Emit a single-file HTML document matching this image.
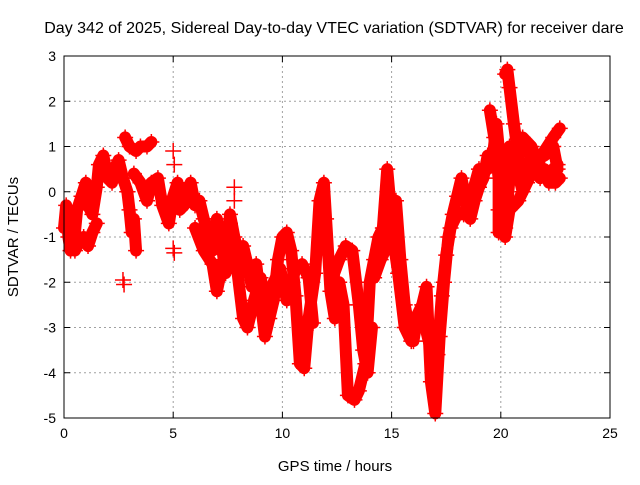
<!DOCTYPE html>
<html><head><meta charset="utf-8"><style>
body{margin:0;background:#fff;}
svg text{font-family:"Liberation Sans",sans-serif;font-size:14px;fill:#000;}
</style></head><body>
<svg id="chart" width="640" height="480">
<text x="334" y="33" text-anchor="middle" style="font-size:16px">Day 342 of 2025, Sidereal Day-to-day VTEC variation (SDTVAR) for receiver dare</text>
<text x="335" y="471" text-anchor="middle" style="font-size:15px">GPS time / hours</text>
<text x="18" y="237" text-anchor="middle" style="font-size:15px" transform="rotate(-90 18 237)">SDTVAR / TECUs</text>
<g id="grid"></g><g id="ticks"></g><g id="marks"></g>
<rect x="64" y="56" width="546" height="362" fill="none" stroke="#000" stroke-width="1"/>
</svg>
<script>
const xTicks=[0,5,10,15,20,25];
const yTicks=[3,2,1,0,-1,-2,-3,-4,-5];
const trace1T=[0,0.1,0.2,0.3,0.5,0.6,0.8,1.0,1.1,1.3,1.5,1.6,1.8,2.0,2.2,2.3,2.5,2.7,2.9,3.0,3.1,3.2,3.3];
const trace1V=[-0.8,-0.3,-1.0,-1.3,-0.9,-0.4,-0.1,0.2,-0.3,-0.5,0.1,0.6,0.8,0.3,0.2,0.5,0.7,0.3,0.0,-0.4,-0.9,-0.6,-1.3];
const trace2T=[0.3,0.5,0.7,0.9,1.1,1.3,1.5];
const trace2V=[-0.9,-1.3,-1.1,-1.0,-1.2,-0.9,-0.7];
const trace3T=[2.8,3.0,3.3,3.5,3.8,4.0];
const trace3V=[1.2,1.0,0.9,1.0,1.0,1.1];
const trace4T=[3.2,3.5,3.8,4.0,4.3,4.5,4.8,5.0,5.2,5.3,5.5,5.7,5.8,6.0,6.2,6.4,6.6,6.8,7.0,7.2,7.4,7.6,7.8,8.0,8.2,8.4,8.6,8.8,9.0,9.2,9.4,9.6,9.8,10.0,10.2,10.4,10.6,10.8,11.0,11.2,11.5,11.7,11.9,12.0,12.2,12.4,12.6,12.8,13.0,13.3,13.5,13.8,14.0,14.2,14.4,14.6,14.8,15.0,15.2,15.4,15.6,15.8,16.0,16.2,16.4,16.6,16.8,17.0,17.2,17.4,17.6,17.8,18.0,18.2,18.4,18.6,18.8,19.0,19.2,19.4,19.6,19.8,20.0,20.2,20.4,20.6,20.8,21.0,21.2,21.4,21.6,21.8,22.0,22.2,22.5,22.7];
const trace4V=[0.4,0.2,-0.2,0.2,0.3,-0.3,-0.7,-0.1,0.2,-0.4,-0.3,0.1,0.2,-0.3,-0.2,-0.6,-0.9,-1.3,-0.6,-1.1,-1.8,-0.5,-1.0,-1.4,-1.2,-1.6,-2.1,-1.6,-2.4,-3.2,-2.8,-2.4,-1.5,-1.0,-0.9,-1.3,-2.3,-3.8,-3.9,-2.8,-1.8,-0.2,0.2,-0.6,-2.2,-2.8,-2.0,-2.5,-4.5,-4.6,-4.4,-3.8,-2.0,-1.5,-1.0,-0.8,0.5,-0.6,-0.2,-1.5,-2.5,-3.0,-3.3,-2.7,-2.5,-2.1,-4.2,-4.9,-3.2,-2.0,-1.0,-0.5,-0.1,0.3,-0.2,-0.6,-0.2,0.1,0.3,0.8,0.6,1.5,0.5,-0.8,0.3,0.9,0.4,0.0,0.4,0.8,0.5,0.3,0.5,0.2,0.2,0.3];
const trace5T=[6.0,6.4,6.8,7.0,7.3,7.6,7.9,8.2,8.4,8.7,9.0,9.3,9.6,9.9,10.2,10.6,10.9,11.2,11.4];
const trace5V=[-0.8,-1.3,-1.6,-2.2,-1.5,-0.7,-1.6,-2.8,-3.0,-2.4,-1.9,-2.5,-2.0,-1.7,-2.4,-1.7,-1.6,-1.9,-2.9];
const trace6T=[12.3,12.6,12.9,13.2,13.5,13.7,13.9,14.1];
const trace6V=[-1.9,-1.5,-1.2,-1.3,-2.5,-3.5,-4.0,-3.0];
const trace7T=[14.2,14.5,14.8,15.0,15.3,15.6,15.9,16.1,16.4,16.7,16.9,17.1,17.3,17.5,17.7,18.0,18.3,18.6,19.0,19.4,19.6,20.0,20.4,20.8,21.2,21.6,22.0,22.4,22.6];
const trace7V=[-1.9,-1.5,-1.2,-0.8,-1.8,-3.0,-3.3,-3.0,-2.7,-3.3,-3.7,-3.6,-2.3,-1.4,-0.8,-0.5,-0.5,-0.2,0.5,0.5,0.8,0.7,1.0,1.0,0.9,0.7,0.8,1.0,0.5];
const trace8T=[20.2,20.3,20.4,20.6,20.8,21.0];
const trace8V=[2.6,2.7,2.3,1.5,0.8,0.4];
const trace9T=[20.2,20.4,20.8,21.2,21.6,22.0,22.4,22.7];
const trace9V=[-1.0,-0.4,-0.2,0.2,0.6,0.9,1.2,1.4];
const trace10T=[21.0,21.4,21.8,22.2,22.6];
const trace10V=[1.2,1.0,0.5,0.4,0.6];
const trace11T=[19.5,19.7,19.9,19.9,19.9];
const trace11V=[1.8,1.2,0.3,-0.4,-0.9];
const trace12T=[2.7,2.75,5.0,5.05,5.0,5.05,7.8,7.8];
const trace12V=[-1.95,-2.05,0.9,0.6,-1.25,-1.35,0.1,-0.2];
const traces=[[trace1T,trace1V],[trace2T,trace2V],[trace3T,trace3V],[trace4T,trace4V],[trace5T,trace5V],[trace6T,trace6V],[trace7T,trace7V],[trace8T,trace8V],[trace9T,trace9V],[trace10T,trace10V],[trace11T,trace11V],[trace12T,trace12V]];
const NS='http://www.w3.org/2000/svg';
const L=64,R=610,T=56,B=418;
function xs(t){return L+(t-0)/(25-0)*(R-L);}
function ys(v){return T+(3-v)/(3-(-5))*(B-T);}
const grid=document.getElementById('grid'),ticks=document.getElementById('ticks'),marks=document.getElementById('marks');
function mk(tag,attrs,parent){const e=document.createElementNS(NS,tag);for(const k in attrs)e.setAttribute(k,attrs[k]);parent.appendChild(e);return e;}
xTicks.forEach(t=>{const x=xs(t);
 if(t>0&&t<25){const g=mk('line',{x1:x,x2:x,y1:T,y2:B,stroke:'#a0a0a0','stroke-dasharray':'2,3'},grid);
 
 }
 mk('line',{x1:x,x2:x,y1:B,y2:B-6,stroke:'#000'},ticks);mk('line',{x1:x,x2:x,y1:T,y2:T+6,stroke:'#000'},ticks);
 const lb=mk('text',{x:x,y:B+20,'text-anchor':'middle'},ticks);lb.textContent=t;
 
 });
yTicks.forEach(v=>{const y=ys(v);
 if(v<3&&v>-5){const g=mk('line',{x1:L,x2:R,y1:y,y2:y,stroke:'#a0a0a0','stroke-dasharray':'2,3'},grid);
 
 }
 mk('line',{x1:L,x2:L+6,y1:y,y2:y,stroke:'#000'},ticks);mk('line',{x1:R,x2:R-6,y1:y,y2:y,stroke:'#000'},ticks);
 const lb=mk('text',{x:L-8,y:y+5,'text-anchor':'end'},ticks);lb.textContent=v;
 
 });
traces.forEach((tr,i)=>{const tt=tr[0],vv=tr[1];
 if(i<11){const pts=tt.map((t,j)=>xs(t)+','+ys(vv[j])).join(' ');
 const pl=mk('polyline',{points:pts,fill:'none',stroke:'#ff0000','stroke-width':12,'stroke-linejoin':'round','stroke-linecap':'round'},marks);
 
 }
 tt.forEach((t,j)=>{const x=xs(t),y=ys(vv[j]);
 const p=mk('path',{d:`M${x-8},${y}H${x+8}M${x},${y-8}V${y+8}`,stroke:'#ff0000','stroke-width':1.5},marks);
 
 });});
</script>
</body></html>
